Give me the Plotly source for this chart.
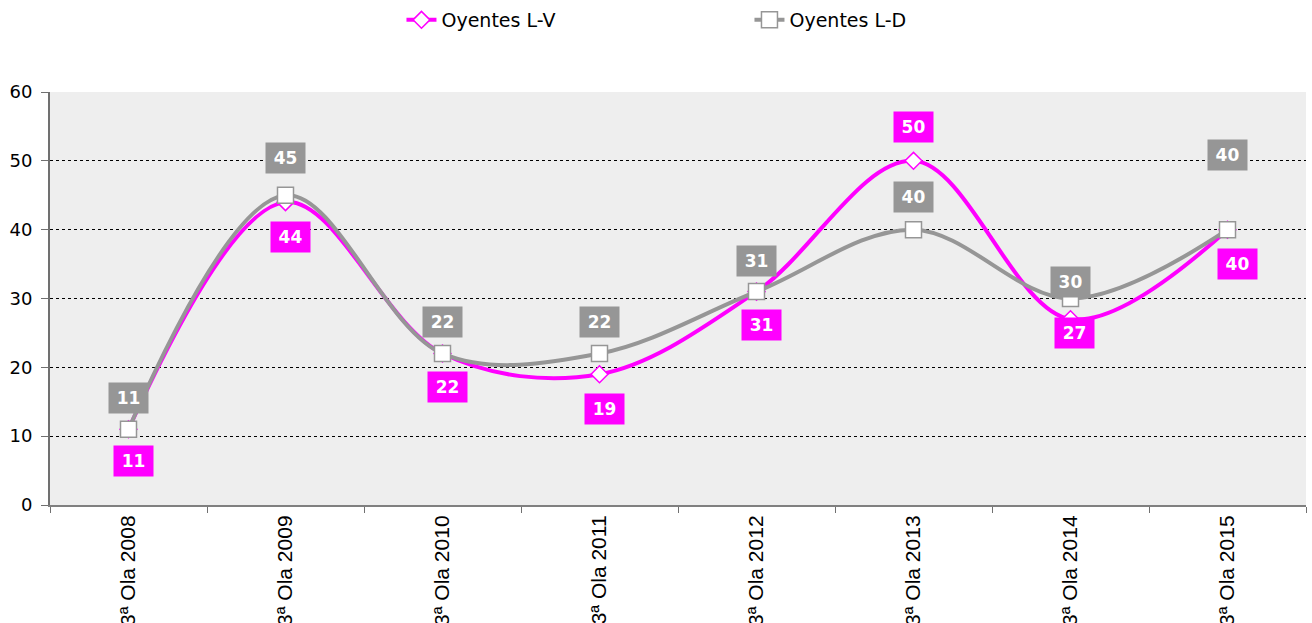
import plotly.graph_objects as go

# Survey waves and audience values
categories = ["3ª Ola 2008", "3ª Ola 2009", "3ª Ola 2010", "3ª Ola 2011",
              "3ª Ola 2012", "3ª Ola 2013", "3ª Ola 2014", "3ª Ola 2015"]
oyentes_lv = [11, 44, 22, 19, 31, 50, 27, 40]
oyentes_ld = [11, 45, 22, 22, 31, 40, 30, 40]
y_ticks = [0, 10, 20, 30, 40, 50, 60]

MAGENTA = "#FF00FF"
GRAY = "#969696"

# Label placement offsets in pixels (xshift, yshift) for each point
lv_offsets = [(5, -32), (5, -35), (5, -33), (5, -35), (5, -33), (0, 34), (4, -14), (10, -34)]
ld_offsets = [(0, 31), (0, 37), (0, 32), (0, 32), (0, 31), (0, 33), (0, 17), (0, 75)]

fig = go.Figure()

fig.add_trace(go.Scatter(
    x=categories, y=oyentes_lv, name="Oyentes L-V", mode="lines+markers",
    line=dict(color=MAGENTA, width=4, shape="spline", smoothing=1.0),
    marker=dict(symbol="diamond", size=13, color="white",
                line=dict(color=MAGENTA, width=1.5)),
))
fig.add_trace(go.Scatter(
    x=categories, y=oyentes_ld, name="Oyentes L-D", mode="lines+markers",
    line=dict(color=GRAY, width=4, shape="spline", smoothing=1.0),
    marker=dict(symbol="square", size=16, color="white",
                line=dict(color=GRAY, width=1.5)),
))

annotations = []
for series, offsets, color in ((oyentes_ld, ld_offsets, GRAY),
                               (oyentes_lv, lv_offsets, MAGENTA)):
    for cat, val, (dx, dy) in zip(categories, series, offsets):
        annotations.append(dict(
            x=cat, y=val, xref="x", yref="y", text=f"<b>{val}</b>",
            showarrow=False, xshift=dx, yshift=dy,
            bgcolor=color, width=37, height=28, borderpad=1,
            font=dict(family="DejaVu Sans", size=17, color="white"),
        ))

fig.update_layout(
    width=1312, height=623, template="none",
    margin=dict(l=50, r=6, t=92, b=118),
    paper_bgcolor="white", plot_bgcolor="#EEEEEE",
    font=dict(family="DejaVu Sans", size=18, color="black"),
    showlegend=True,
    legend=dict(
        orientation="h", xref="container", yref="container",
        x=0.306, xanchor="left", y=1 - 20 / 623, yanchor="middle",
        entrywidth=303, entrywidthmode="pixels",
        font=dict(family="DejaVu Sans", size=19, color="black"),
        bgcolor="rgba(0,0,0,0)",
    ),
    annotations=annotations,
)

fig.update_xaxes(
    type="category", range=[-0.5, 7.5], automargin=False,
    tickangle=-90, tickfont=dict(family="Liberation Sans", size=21, color="black"),
    ticks="outside", tickson="boundaries", ticklen=6, tickcolor="#707070",
    showline=True, linecolor="#808080", linewidth=2, showgrid=False, mirror=False,
)
fig.update_yaxes(
    range=[0, 60], tickvals=y_ticks, automargin=False,
    tickfont=dict(family="DejaVu Sans", size=18, color="black"),
    ticks="outside", ticklen=7, tickcolor="#707070", ticklabelstandoff=5,
    showline=True, linecolor="#707070", linewidth=2,
    showgrid=True, gridcolor="black", gridwidth=1, griddash="dot",
    zeroline=False,
)

fig.write_html("out.html")
